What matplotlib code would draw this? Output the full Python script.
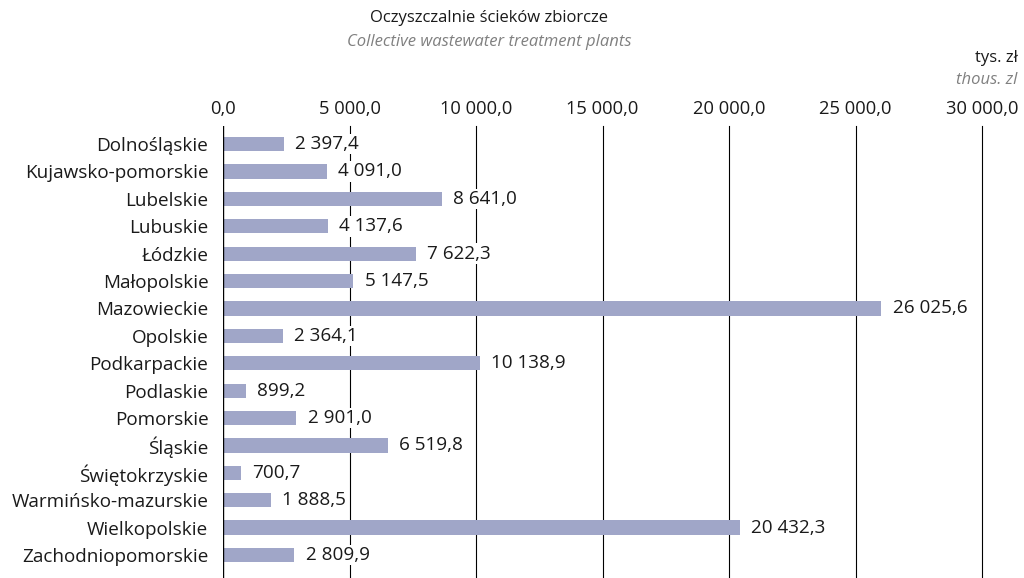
import matplotlib.pyplot as plt
from matplotlib.ticker import FuncFormatter

plt.rcParams['font.family'] = ['Open Sans', 'DejaVu Sans']

regions = ['Dolnośląskie', 'Kujawsko-pomorskie', 'Lubelskie', 'Lubuskie', 'Łódzkie',
           'Małopolskie', 'Mazowieckie', 'Opolskie', 'Podkarpackie', 'Podlaskie',
           'Pomorskie', 'Śląskie', 'Świętokrzyskie', 'Warmińsko-mazurskie',
           'Wielkopolskie', 'Zachodniopomorskie']
values = [2397.4, 4091.0, 8641.0, 4137.6, 7622.3, 5147.5, 26025.6, 2364.1,
          10138.9, 899.2, 2901.0, 6519.8, 700.7, 1888.5, 20432.3, 2809.9]
ticks = [0, 5000, 10000, 15000, 20000, 25000, 30000]


def pl_fmt(v):
    s = f'{v:,.1f}'
    return s.replace(',', ' ').replace('.', ',')


fig = plt.figure(figsize=(10.24, 5.78), dpi=100)
ax = fig.add_axes([0.2178, 0.0, 0.7412, 0.782])

pos = list(range(len(regions)))
ax.barh(pos, values, height=0.52, color='#a0a6c8', zorder=2)
ax.set_ylim(15.84, -0.66)
ax.set_xlim(0, 30000)

for x in ticks[1:]:
    ax.axvline(x, color='black', lw=0.8, zorder=1, clip_on=False)
ax.axvline(0, color='black', lw=1.0, zorder=3)

for p, v in zip(pos, values):
    ax.text(v + 450, p, pl_fmt(v), va='center', ha='left', fontsize=13.6,
            color='#1a1a1a', zorder=4,
            bbox=dict(facecolor='white', edgecolor='none', pad=1.0))

ax.set_xticks(ticks)
ax.xaxis.set_major_formatter(FuncFormatter(lambda v, _: pl_fmt(v)))
ax.xaxis.tick_top()
ax.tick_params(axis='x', length=0, pad=6, labelsize=13.2, labelcolor='#1a1a1a')
ax.set_yticks(pos)
ax.set_yticklabels(regions)
ax.tick_params(axis='y', length=0, pad=10.5, labelsize=13.6, labelcolor='#1a1a1a')
for s in ax.spines.values():
    s.set_visible(False)

fig.text(0.478, 0.969, 'Oczyszczalnie ścieków zbiorcze', ha='center', va='center',
         fontsize=12, color='#1a1a1a')
fig.text(0.478, 0.927, 'Collective wastewater treatment plants', ha='center', va='center',
         fontsize=12, color='#808080', style='italic')
fig.text(0.994, 0.899, 'tys. zł', ha='right', va='center', fontsize=12, color='#1a1a1a')
fig.text(0.994, 0.861, 'thous. zl', ha='right', va='center', fontsize=12,
         color='#808080', style='italic')

fig.savefig('out.png', dpi=100)
